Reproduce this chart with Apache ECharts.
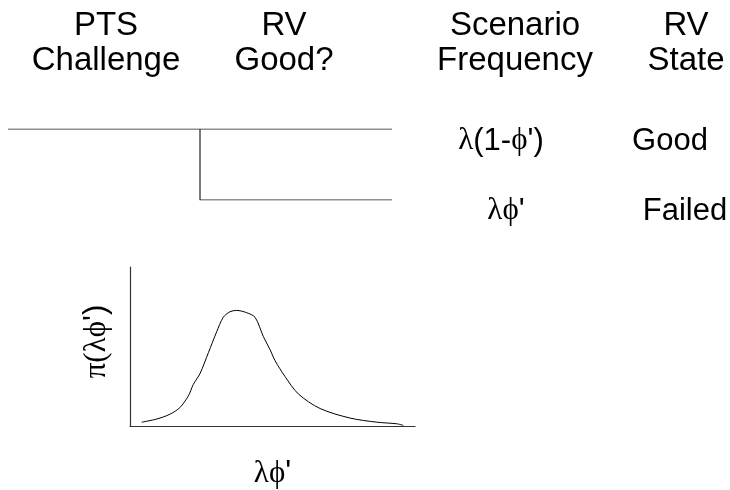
<!DOCTYPE html>
<html>
<head>
<meta charset="utf-8">
<script src="https://cdn.jsdelivr.net/npm/echarts@6/dist/echarts.min.js"></script>
<style>
  html, body { margin: 0; padding: 0; background: #fff; }
  #chart { width: 730px; height: 490px; }
</style>
</head>
<body>
<div id="chart"></div>
<script>
// Column headings of the event tree
const headings = ['PTS\nChallenge', 'RV\nGood?', 'Scenario\nFrequency', 'RV\nState'];

// Event tree branches: x = stage (0 start, 1 RV question, 2 end), y = branch level
const goodBranch = [[0, 1], [2, 1]];
const failBranch = [[1, 1], [1, 0], [2, 0]];

// Outcome rows: frequency expression and resulting RV state
const outcomeFreq = [['λ', '(1-', 'ϕ', "')"], ['λϕ', "'"]];
const outcomeState = ['Good', 'Failed'];

// Uncertainty distribution of the failure frequency λϕ'
const densityX = [4.1, 9.4, 14.0, 17.5, 20.5, 22.2, 24.6, 27.5, 30.4, 32.7, 35.1, 37.4, 40.9, 43.9, 46.8, 49.1, 50.9, 54.4, 59.1, 66.7, 77.2, 86.6, 93.6, 95.9];
const densityY = [2.4, 4.4, 7.4, 11.6, 19.0, 26.1, 33.1, 46.1, 59.2, 68.3, 71.9, 72.7, 71.3, 68.3, 56.2, 48.2, 41.1, 31.1, 20.1, 11.0, 5.0, 2.4, 1.4, 0.4];

const SANS = '"Liberation Sans", Arial, sans-serif';
const SERIF = '"Liberation Serif", "DejaVu Serif", "Times New Roman", serif';
const FS = 31;
const HEAD_FS = 33;

const greekRich = {
  g: { fontFamily: SERIF, fontSize: FS, color: '#000' },
  s: { fontFamily: SANS, fontSize: FS, color: '#000' }
};

const chart = echarts.init(document.getElementById('chart'), null, { renderer: 'canvas' });

const headerX = [106, 284, 515, 686];
const graphics = headings.map((t, i) => ({
  type: 'text',
  x: headerX[i],
  y: 43,
  style: {
    text: t,
    fontFamily: SANS,
    fontSize: HEAD_FS,
    lineHeight: 35,
    fill: '#000',
    align: 'center',
    verticalAlign: 'middle'
  }
}));

const rowY = [141, 211];
const freqX = [501, 506];
const stateX = [670, 685];
outcomeFreq.forEach((parts, i) => {
  const txt = parts.map((p) => (/[λϕπ]/.test(p) ? '{g|' + p + '}' : '{s|' + p + '}')).join('');
  graphics.push({
    type: 'text', x: freqX[i], y: rowY[i],
    style: { text: txt, rich: greekRich, align: 'center', verticalAlign: 'middle' }
  });
  graphics.push({
    type: 'text', x: stateX[i], y: rowY[i],
    style: { text: outcomeState[i], fontFamily: SANS, fontSize: FS, fill: '#000', align: 'center', verticalAlign: 'middle' }
  });
});

const lineStyleTree = { color: '#222', width: 1.2 };

chart.setOption({
  animation: false,
  backgroundColor: '#fff',
  graphic: graphics,
  grid: [
    { left: 130, top: 267, width: 285, height: 166 },
    { left: 8, top: 129, width: 384, height: 71 }
  ],
  xAxis: [
    {
      gridIndex: 0, type: 'value', min: 0, max: 100,
      axisLine: { show: true, lineStyle: { color: '#333', width: 1.2 } },
      axisTick: { show: false }, axisLabel: { show: false }, splitLine: { show: false },
      name: "{g|λϕ}{s|'}", nameLocation: 'middle', nameGap: 32,
      nameTextStyle: { rich: greekRich }
    },
    {
      gridIndex: 1, type: 'value', min: 0, max: 2, show: false
    }
  ],
  yAxis: [
    {
      gridIndex: 0, type: 'value', min: 0, max: 100,
      axisLine: { show: true, lineStyle: { color: '#333', width: 1.2 } },
      axisTick: { show: false }, axisLabel: { show: false }, splitLine: { show: false },
      name: "{g|π(λϕ}{s|')}", nameLocation: 'middle', nameGap: 18, nameRotate: 90,
      nameTextStyle: { rich: greekRich, padding: [0, 0, 0, 10] }
    },
    {
      gridIndex: 1, type: 'value', min: 0, max: 1, show: false
    }
  ],
  series: [
    {
      type: 'line', xAxisIndex: 0, yAxisIndex: 0,
      data: densityX.map((x, i) => [x, densityY[i]]),
      smooth: 0.3, showSymbol: false, symbol: 'none',
      lineStyle: { color: '#000', width: 1 }
    },
    {
      type: 'line', xAxisIndex: 1, yAxisIndex: 1,
      data: goodBranch, showSymbol: false, symbol: 'none',
      lineStyle: lineStyleTree
    },
    {
      type: 'line', xAxisIndex: 1, yAxisIndex: 1,
      data: failBranch, showSymbol: false, symbol: 'none',
      lineStyle: lineStyleTree
    }
  ]
});
</script>
</body>
</html>
